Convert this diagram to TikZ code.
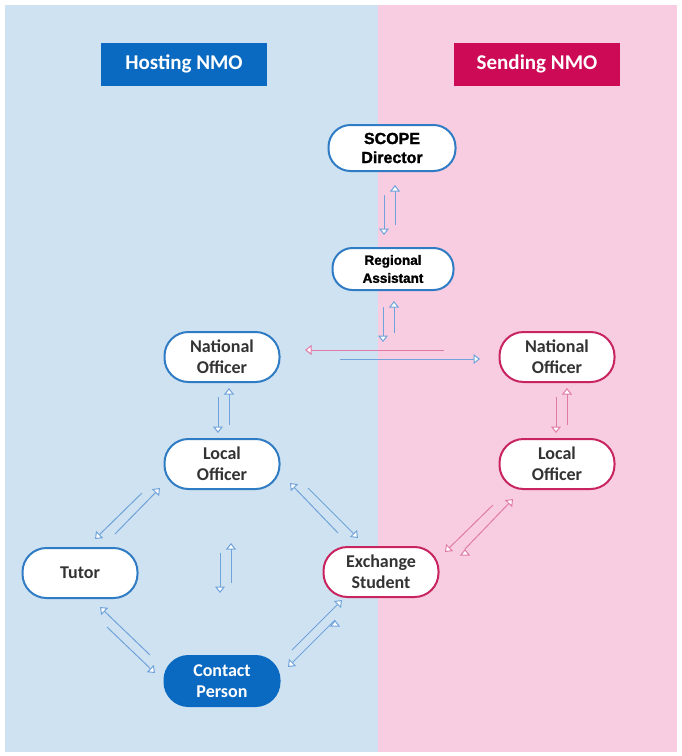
\documentclass[tikz,border=0pt]{standalone}
\usepackage{fontspec}
\setmainfont{Carlito}
\newfontfamily\blackfont[BoldFeatures={FakeBold=1.5}]{Liberation Sans}
\usetikzlibrary{arrows.meta,calc}

\definecolor{hostbg}{HTML}{CFE2F1}
\definecolor{sendbg}{HTML}{F8CDE1}
\definecolor{hosthead}{HTML}{0A69C0}
\definecolor{sendhead}{HTML}{CC0A55}
\definecolor{hostline}{HTML}{2F7BC4}
\definecolor{sendline}{HTML}{C8245F}
\definecolor{hostarr}{HTML}{6FA3DA}
\definecolor{sendarr}{HTML}{E07BA8}

\begin{document}
\begin{tikzpicture}[x=1pt,y=-1pt,
header/.style={minimum width=166pt,minimum height=43pt,text=white,font=\fontsize{21}{24}\selectfont\bfseries},
officer/.style={draw=hostline,line width=2pt,fill=white,rounded corners=24pt,minimum width=115pt,minimum height=50pt,inner xsep=0pt,align=center,text=black!80,font=\fontsize{18}{21}\selectfont\bfseries},
sendofficer/.style={officer,draw=sendline},
scopebox/.style={officer,text=black,font=\blackfont\fontsize{16}{19}\selectfont\bfseries},
hostarrow/.style={draw=hostarr,double=white,double distance=3.4pt,line width=1pt,-{Triangle[width=10pt,length=6.5pt,fill=white,line width=1pt]}},
sendarrow/.style={hostarrow,draw=sendarr}]
\useasboundingbox (0,0) rectangle (681,756);
\fill[hostbg] (5,5) rectangle (378,752);
\fill[sendbg] (378,5) rectangle (677,752);

\node[header,fill=hosthead] (hh) at (184,64) {Hosting NMO};
\node[header,fill=sendhead] (sh) at (537,64) {Sending NMO};

\node[scopebox,minimum width=127pt,minimum height=46pt,rounded corners=22pt] (sd) at (392,148) {SCOPE\\Director};
\node[scopebox,minimum width=121pt,minimum height=42pt,rounded corners=20pt,font=\blackfont\fontsize{13.5}{18}\selectfont\bfseries] (ra) at (393,269) {Regional\\Assistant};
\node[officer] (hno) at (222,357) {National\\Officer};
\node[sendofficer] (sno) at (557,357) {National\\Officer};
\node[officer] (hlo) at (222,464) {Local\\Officer};
\node[sendofficer] (slo) at (557,464) {Local\\Officer};
\node[officer] (tu) at (80,573) {Tutor};
\node[sendofficer] (es) at (381,572) {Exchange\\Student};
\node[officer,fill=hosthead,draw=hosthead,text=white] (cp) at (222,681) {Contact\\Person};
\coordinate (hub) at (393,350);

\path[hostarrow]
($(sd)+(-8,47)$) edge ($(ra)+(-9,-34)$)
($(ra)+(2,-44)$) edge ($(sd)+(3,37)$)
($(ra)+(-10,38)$) edge ($(hub)+(-10,-8)$)
($(hub)+(1,-17)$) edge ($(ra)+(1,32)$)
($(hno)+(118,2)$) edge ($(sno)+(-77,2)$)
($(hno)+(-4,40)$) edge ($(hlo)+(-4,-31)$)
($(hlo)+(7,-39)$) edge ($(hno)+(7,31)$)
($(hlo)+(-80,29)$) edge ($(tu)+(15,-34)$)
($(tu)+(35,-39)$) edge ($(hlo)+(-62,24)$)
($(es)+(-43,-39)$) edge ($(hlo)+(68,19)$)
($(hlo)+(86,24)$) edge ($(es)+(-23,-34)$)
($(hlo)+(-2,89)$) edge ($(cp)+(-2,-88)$)
($(cp)+(9,-98)$) edge ($(hlo)+(9,79)$)
($(cp)+(-72,-26)$) edge ($(tu)+(20,34)$)
($(tu)+(27,54)$) edge ($(cp)+(-67,-8)$)
($(cp)+(70,-31)$) edge ($(es)+(-39,28)$)
($(es)+(-46,48)$) edge ($(cp)+(66,-14)$);
\path[sendarrow]
($(sno)+(-113,-7)$) edge ($(hno)+(83,-7)$)
($(sno)+(-1,40)$) edge ($(slo)+(-1,-31)$)
($(slo)+(10,-39)$) edge ($(sno)+(10,31)$)
($(slo)+(-64,41)$) edge ($(es)+(64,-20)$)
($(es)+(84,-23)$) edge ($(slo)+(-44,35)$);
\end{tikzpicture}
\end{document}
